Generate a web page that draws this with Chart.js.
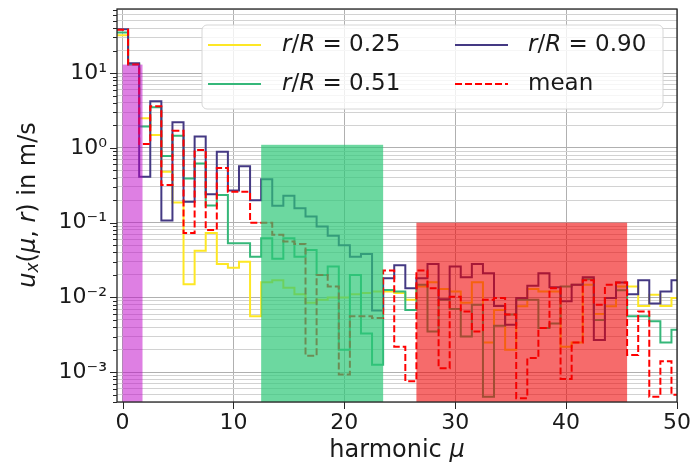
<!DOCTYPE html>
<html>
<head>
  <meta charset="UTF-8">
  <title>Velocity harmonics</title>
  <script src="https://cdn.jsdelivr.net/npm/chart.js"></script>
  <style>
    html, body { margin: 0; padding: 0; background: #fff; }
    #wrap { width: 692px; height: 466px; }
  </style>
</head>
<body>
  <div id="wrap"><canvas id="harmonicChart" width="692" height="466"></canvas></div>

  <script>
    // harmonic index mu
    const harmonics = [0, 1, 2, 3, 4, 5, 6, 7, 8, 9, 10, 11, 12, 13, 14, 15, 16, 17, 18, 19, 20,
      21, 22, 23, 24, 25, 26, 27, 28, 29, 30, 31, 32, 33, 34, 35, 36, 37, 38, 39, 40,
      41, 42, 43, 44, 45, 46, 47, 48, 49, 50];

    // u_x(mu, r) in m/s at three radii, plus the radial mean
    const radius025 = [32, 13, 2.5, 1.49, 0.48, 0.186, 0.015, 0.042, 0.073, 0.028,
      0.025, 0.030, 0.0056, 0.016, 0.017, 0.0135, 0.011, 0.0085, 0.0093, 0.010,
      0.010, 0.011, 0.0115, 0.012, 0.012, 0.0115, 0.0093, 0.014, 0.016, 0.013,
      0.012, 0.0085, 0.016, 0.0025, 0.0068, 0.002, 0.0076, 0.013, 0.012, 0.012,
      0.0022, 0.0025, 0.0148, 0.006, 0.0076, 0.014, 0.014, 0.0077, 0.0109, 0.0077, 0.0098];
    const radius051 = [35, 13, 1.93, 3.5, 0.78, 1.45, 0.39, 0.62, 0.17, 0.235,
      0.053, 0.053, 0.035, 0.062, 0.033, 0.062, 0.035, 0.043, 0.020, 0.026,
      0.0020, 0.020, 0.0033, 0.00126, 0.0126, 0.012, 0.0068, 0.0148, 0.0035, 0.0093,
      0.007, 0.003, 0.008, 0.00047, 0.0042, 0.0059, 0.0093, 0.0093, 0.0039, 0.0045,
      0.014, 0.0148, 0.0175, 0.005, 0.0098, 0.0125, 0.0056, 0.0056, 0.0048, 0.0025, 0.0037];
    const radius090 = [38.6, 13.6, 0.41, 4.2, 0.107, 2.2, 0.19, 1.42, 0.24, 0.89,
      0.27, 0.57, 0.20, 0.38, 0.168, 0.23, 0.156, 0.121, 0.089, 0.067,
      0.050, 0.035, 0.038, 0.0067, 0.018, 0.027, 0.0133, 0.018, 0.028, 0.0095,
      0.026, 0.0187, 0.028, 0.021, 0.0077, 0.0043, 0.0098, 0.0143, 0.021, 0.0137,
      0.0089, 0.0148, 0.0187, 0.0027, 0.0098, 0.0158, 0.011, 0.017, 0.0083, 0.012, 0.017];
    const meanValues = [38, 13, 1.13, 3.6, 0.32, 1.7, 0.073, 0.94, 0.080, 0.54,
      0.26, 0.26, 0.10, 0.10, 0.069, 0.056, 0.052, 0.00166, 0.020, 0.014,
      0.00093, 0.0056, 0.0056, 0.0053, 0.023, 0.0022, 0.00076, 0.023, 0.0133, 0.00113,
      0.0102, 0.0065, 0.0035, 0.0093, 0.0098, 0.0059, 0.00045, 0.00155, 0.0039, 0.0133,
      0.00081, 0.0025, 0.017, 0.008, 0.0148, 0.0158, 0.0017, 0.0065, 0.00047, 0.0014, 0.0005];

    // highlighted harmonic bands: [from, to] in mu, and their upper value
    const bandFrom = [0, 12.5, 26.5];
    const bandTo = [1.8, 23.5, 45.5];
    const bandTop = [13, 1.1, 0.1];
    const bandColors = ['rgba(190, 0, 200, 0.5)', 'rgba(46, 200, 120, 0.7)', 'rgba(240, 0, 0, 0.58)'];

    const xTickValues = [0, 10, 20, 30, 40, 50];
    const yMin = 4e-4, yMax = 72;

    const FONT = '"DejaVu Sans", sans-serif';
    const INK = '#1a1a1a';

    // 1..9 x 10^e ticks over the visible range
    const yTickValues = [];
    for (let e = -4; e <= 1; e++) {
      for (let m = 1; m <= 9; m++) {
        const v = Number((m * Math.pow(10, e)).toPrecision(2));
        if (v >= yMin && v <= yMax) yTickValues.push(v);
      }
    }
    const isDecade = v => Math.abs(Math.log10(v) - Math.round(Math.log10(v))) < 1e-9;
    const SUP = { '-': '\u207B', '0': '\u2070', '1': '\u00B9', '2': '\u00B2', '3': '\u00B3' };
    const powLabel = v => '10' + String(Math.round(Math.log10(v))).split('').map(c => SUP[c]).join('');

    // steps centred on each harmonic: edges at mu - 1/2, last edge at mu_max + 1/2
    function steps(values) {
      const pts = values.map((v, i) => ({ x: harmonics[i] - 0.5, y: v }));
      pts.push({ x: harmonics[harmonics.length - 1] + 0.5, y: values[values.length - 1] });
      return pts;
    }

    const series = [
      { label: 'mean', data: meanValues, color: '#ff0000', dash: [7, 3] },
      { label: '0.90', data: radius090, color: '#443983', dash: [] },
      { label: '0.51', data: radius051, color: '#35b779', dash: [] },
      { label: '0.25', data: radius025, color: '#fde725', dash: [] }
    ];

    function fontOf(p) {
      return (p.italic ? 'italic ' : '') + p.size + 'px ' + FONT;
    }
    function drawRich(ctx, parts, x, y, align) {
      let total = 0;
      parts.forEach(p => { ctx.font = fontOf(p); p.w = ctx.measureText(p.text).width; total += p.w; });
      let cx = align === 'center' ? x - total / 2 : x;
      parts.forEach(p => {
        ctx.font = fontOf(p);
        ctx.fillText(p.text, cx, y + (p.dy || 0));
        cx += p.w;
      });
    }

    // translucent bands over the lines
    const bandPlugin = {
      id: 'bands',
      afterDatasetsDraw(chart) {
        const { ctx, chartArea: a, scales: { x, y } } = chart;
        ctx.save();
        ctx.beginPath();
        ctx.rect(a.left, a.top, a.right - a.left, a.bottom - a.top);
        ctx.clip();
        bandFrom.forEach((f, i) => {
          const x1 = x.getPixelForValue(f);
          const x2 = x.getPixelForValue(bandTo[i]);
          const yt = y.getPixelForValue(bandTop[i]);
          ctx.fillStyle = bandColors[i];
          ctx.fillRect(x1, yt, x2 - x1, a.bottom - yt);
        });
        ctx.restore();
      }
    };

    // frame, tick marks, axis titles and legend
    const decorPlugin = {
      id: 'decor',
      afterDraw(chart) {
        const { ctx, chartArea: a, scales: { x, y } } = chart;
        ctx.save();
        ctx.strokeStyle = '#262626';
        ctx.lineWidth = 1;
        y.ticks.forEach(t => {
          const py = Math.round(y.getPixelForValue(t.value)) + 0.5;
          const len = isDecade(t.value) ? 7 : 4;
          ctx.beginPath(); ctx.moveTo(a.left - len, py); ctx.lineTo(a.left, py); ctx.stroke();
        });
        x.ticks.forEach(t => {
          const px = Math.round(x.getPixelForValue(t.value)) + 0.5;
          ctx.beginPath(); ctx.moveTo(px, a.bottom); ctx.lineTo(px, a.bottom + 7); ctx.stroke();
        });
        ctx.lineWidth = 1.3;
        ctx.strokeRect(a.left, a.top, a.right - a.left, a.bottom - a.top);

        ctx.fillStyle = INK;
        ctx.textBaseline = 'middle';
        drawRich(ctx, [
          { text: 'harmonic ', size: 24 },
          { text: '\u03BC', size: 24, italic: true }
        ], (a.left + a.right) / 2, 451, 'center');

        ctx.save();
        ctx.translate(29, 205);
        ctx.rotate(-Math.PI / 2);
        drawRich(ctx, [
          { text: 'u', size: 24, italic: true },
          { text: 'x', size: 17, italic: true, dy: 5 },
          { text: '(', size: 24 },
          { text: '\u03BC', size: 24, italic: true },
          { text: ', ', size: 24 },
          { text: 'r', size: 24, italic: true },
          { text: ') in m/s', size: 24 }
        ], 0, 0, 'center');
        ctx.restore();

        // legend box, two columns
        const bx = 202, by = 25, bw = 461, bh = 84, r = 5;
        ctx.beginPath();
        ctx.moveTo(bx + r, by);
        ctx.arcTo(bx + bw, by, bx + bw, by + bh, r);
        ctx.arcTo(bx + bw, by + bh, bx, by + bh, r);
        ctx.arcTo(bx, by + bh, bx, by, r);
        ctx.arcTo(bx, by, bx + bw, by, r);
        ctx.closePath();
        ctx.fillStyle = 'rgba(255,255,255,0.8)';
        ctx.fill();
        ctx.strokeStyle = '#d6d6d6';
        ctx.lineWidth = 1;
        ctx.stroke();

        const items = [
          { s: series[3], col: 0, row: 0 },
          { s: series[2], col: 0, row: 1 },
          { s: series[1], col: 1, row: 0 },
          { s: series[0], col: 1, row: 1 }
        ];
        const handleX = [208, 455], textX = [282, 528], rowY = [45, 84];
        items.forEach(it => {
          const hx = handleX[it.col], ry = rowY[it.row];
          ctx.strokeStyle = it.s.color;
          ctx.lineWidth = 2;
          ctx.setLineDash(it.s.dash);
          ctx.beginPath(); ctx.moveTo(hx, ry); ctx.lineTo(hx + 53, ry); ctx.stroke();
          ctx.setLineDash([]);
          ctx.fillStyle = INK;
          if (it.s.label === 'mean') {
            drawRich(ctx, [{ text: 'mean', size: 23 }], textX[it.col], ry, 'left');
          } else {
            drawRich(ctx, [
              { text: 'r', size: 23, italic: true },
              { text: '/', size: 23 },
              { text: 'R', size: 23, italic: true },
              { text: ' = ' + it.s.label, size: 23 }
            ], textX[it.col], ry, 'left');
          }
        });
        ctx.restore();
      }
    };

    new Chart(document.getElementById('harmonicChart').getContext('2d'), {
      type: 'line',
      data: {
        datasets: series.map(s => ({
          label: s.label,
          data: steps(s.data),
          borderColor: s.color,
          borderWidth: 2,
          borderDash: s.dash,
          pointRadius: 0,
          stepped: true,
          fill: false
        }))
      },
      options: {
        responsive: false,
        animation: false,
        layout: { padding: { top: 9, right: 15, left: 0, bottom: 0 } },
        plugins: { legend: { display: false }, tooltip: { enabled: false } },
        scales: {
          x: {
            type: 'linear',
            min: -0.5,
            max: 50,
            afterBuildTicks: s => { s.ticks = xTickValues.map(v => ({ value: v })); },
            afterFit: s => { s.height = 64; s.paddingLeft = 0; s.paddingRight = 0; },
            border: { display: false },
            grid: { color: '#b0b0b0', lineWidth: 1, drawTicks: false },
            ticks: { font: { family: FONT, size: 22 }, color: INK, padding: 8, maxRotation: 0, autoSkip: false }
          },
          y: {
            type: 'logarithmic',
            min: yMin,
            max: yMax,
            afterBuildTicks: s => { s.ticks = yTickValues.map(v => ({ value: v })); },
            afterFit: s => { s.width = 117; s.paddingTop = 0; s.paddingBottom = 0; },
            border: { display: false },
            grid: {
              drawTicks: false,
              lineWidth: 1,
              color: c => (c.tick && isDecade(c.tick.value)) ? '#b0b0b0' : '#d2d2d2'
            },
            ticks: {
              font: { family: FONT, size: 22 },
              color: INK,
              padding: 10,
              autoSkip: false,
              callback: v => isDecade(v) ? powLabel(v) : ''
            }
          }
        }
      },
      plugins: [bandPlugin, decorPlugin]
    });
  </script>
</body>
</html>
